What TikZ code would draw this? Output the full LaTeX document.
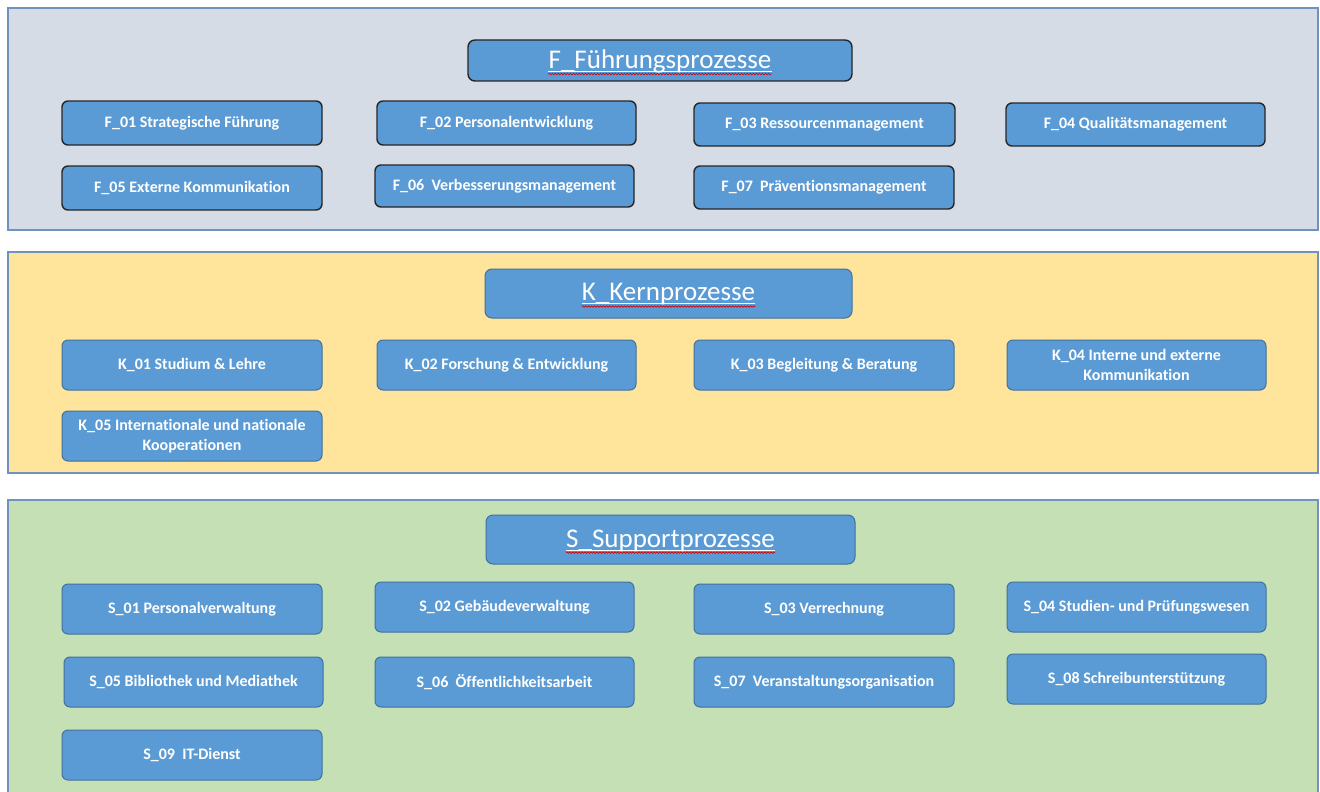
\documentclass[tikz,border=0pt]{standalone}
\usepackage{fontspec}
\setmainfont[Ligatures=NoCommon]{Carlito}
\usetikzlibrary{decorations.pathmorphing}
\definecolor{panelborder}{HTML}{6F93BC}
\definecolor{fpanel}{HTML}{D6DCE5}
\definecolor{kpanel}{HTML}{FFE59C}
\definecolor{spanel}{HTML}{C5E0B4}
\definecolor{boxblue}{HTML}{5B9BD5}
\definecolor{boxedge}{HTML}{41719C}
\definecolor{darkedge}{HTML}{262626}
\tikzset{
  panel/.style={draw=panelborder, line width=1.2pt},
  pbox/.style={rounded corners=6pt, fill=boxblue, draw=boxedge, line width=1pt,
    text=white, font=\fontsize{16}{20}\selectfont\bfseries, align=center, inner sep=2pt},
  fbox/.style={pbox, draw=darkedge, line width=1.4pt},
  ttlbox/.style={rounded corners=7pt, fill=boxblue, draw=boxedge, line width=1pt},
  ttltext/.style={inner sep=0pt, text=white, font=\fontsize{27}{30}\selectfont},
  wline/.style={white, line width=1pt},
  spell/.style={red!85!black, line width=0.7pt, decorate,
    decoration={snake, amplitude=0.8pt, segment length=3pt}}
}
\begin{document}
\begin{tikzpicture}[x=1pt,y=-1pt]
\useasboundingbox (0,0) rectangle (1320,792);
\fill[white] (0,0) rectangle (1320,792);
% panels
\draw[panel, fill=fpanel] (8,8) rectangle (1318,230);
\draw[panel, fill=kpanel] (8,252) rectangle (1318,473);
\draw[panel, fill=spanel] (8,800) -- (8,500) -- (1318,500) -- (1318,800);

% F section
\node[ttlbox, draw=darkedge, line width=1.4pt, minimum width=384, minimum height=41] (ftitle) at (660,60.5) {};
\node[ttltext] (ftxt) at ([yshift=-1]ftitle.center) {F\_Führungsprozesse};
\draw[wline] ([yshift=-3]ftxt.base west) -- ([yshift=-3]ftxt.base east);
\draw[spell] ([yshift=-5.5]ftxt.base west) -- ([yshift=-5.5]ftxt.base east);

\node[fbox, minimum width=260, minimum height=44] (f1) at (192,123) {F\_01 Strategische Führung};
\node[fbox, minimum width=259, minimum height=44] (f2) at (506.5,123) {F\_02 Personalentwicklung};
\node[fbox, minimum width=261, minimum height=43] (f3) at (824.5,124.5) {F\_03 Ressourcenmanagement};
\node[fbox, minimum width=259, minimum height=43] (f4) at (1135.5,124.5) {F\_04 Qualitätsmanagement};
\node[fbox, minimum width=260, minimum height=44] (f5) at (192,188) {F\_05 Externe Kommunikation};
\node[fbox, minimum width=259, minimum height=42] (f6) at (504.5,186) {F\_06\ \ Verbesserungsmanagement};
\node[fbox, minimum width=260, minimum height=43] (f7) at (824,187.5) {F\_07\ \ Präventionsmanagement};

% K section
\node[ttlbox, minimum width=367, minimum height=49] (ktitle) at (668.5,293.5) {};
\node[ttltext] (ktxt) at ([yshift=-1]ktitle.center) {K\_Kernprozesse};
\draw[wline] ([yshift=-3]ktxt.base west) -- ([yshift=-3]ktxt.base east);
\draw[spell] ([yshift=-5.5]ktxt.base west) -- ([yshift=-5.5]ktxt.base east);

\node[pbox, minimum width=260, minimum height=50] (k1) at (192,365) {K\_01 Studium \& Lehre};
\node[pbox, minimum width=259, minimum height=50] (k2) at (506.5,365) {K\_02 Forschung \& Entwicklung};
\node[pbox, minimum width=260, minimum height=50] (k3) at (824,365) {K\_03 Begleitung \& Beratung};
\node[pbox, minimum width=259, minimum height=50] (k4) at (1136.5,365) {K\_04 Interne und externe\\Kommunikation};
\node[pbox, minimum width=260, minimum height=50] (k5) at (192,436) {K\_05 Internationale und nationale\\Kooperationen};

% S section
\node[ttlbox, minimum width=369, minimum height=49] (stitle) at (670.5,539.5) {};
\node[ttltext] (stxt) at ([yshift=-1]stitle.center) {S\_Supportprozesse};
\draw[wline] ([yshift=-3]stxt.base west) -- ([yshift=-3]stxt.base east);
\draw[spell] ([yshift=-5.5]stxt.base west) -- ([yshift=-5.5]stxt.base east);

\node[pbox, minimum width=260, minimum height=50] (s1) at (192,609) {S\_01 Personalverwaltung};
\node[pbox, minimum width=259, minimum height=50] (s2) at (504.5,607) {S\_02 Gebäudeverwaltung};
\node[pbox, minimum width=260, minimum height=50] (s3) at (824,609) {S\_03 Verrechnung};
\node[pbox, minimum width=259, minimum height=50] (s4) at (1136.5,607) {S\_04 Studien- und Prüfungswesen};
\node[pbox, minimum width=259, minimum height=50] (s5) at (193.5,682) {S\_05 Bibliothek und Mediathek};
\node[pbox, minimum width=259, minimum height=50] (s6) at (504.5,682) {S\_06\ \ Öffentlichkeitsarbeit};
\node[pbox, minimum width=260, minimum height=50] (s7) at (824,682) {S\_07\ \ Veranstaltungsorganisation};
\node[pbox, minimum width=259, minimum height=50] (s8) at (1136.5,679) {S\_08 Schreibunterstützung};
\node[pbox, minimum width=260, minimum height=50] (s9) at (192,755) {S\_09\ \ IT-Dienst};
\end{tikzpicture}
\end{document}
